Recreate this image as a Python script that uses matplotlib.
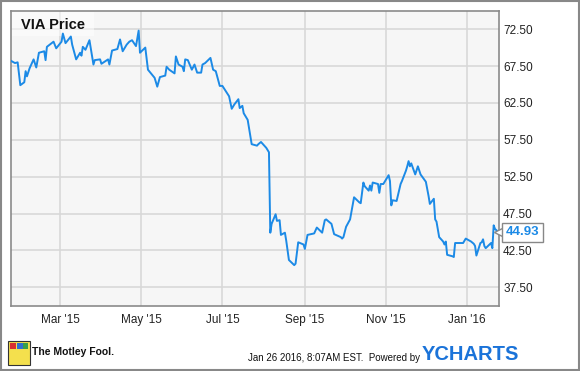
import matplotlib
matplotlib.use("Agg")
import matplotlib.pyplot as plt
import matplotlib.dates as mdates
import matplotlib.patches as mpatches
import pandas as pd

# VIA daily close
dates = [
    "2015-01-23", "2015-01-26", "2015-01-28", "2015-01-30", "2015-02-02", "2015-02-03",
    "2015-02-04", "2015-02-06", "2015-02-09", "2015-02-11", "2015-02-13", "2015-02-17",
    "2015-02-18", "2015-02-19", "2015-02-24", "2015-02-26", "2015-03-02", "2015-03-03",
    "2015-03-05", "2015-03-09", "2015-03-10", "2015-03-13", "2015-03-16", "2015-03-17",
    "2015-03-18", "2015-03-20", "2015-03-23", "2015-03-26", "2015-03-27", "2015-03-31",
    "2015-04-01", "2015-04-06", "2015-04-07", "2015-04-09", "2015-04-13", "2015-04-15",
    "2015-04-17", "2015-04-20", "2015-04-22", "2015-04-24", "2015-04-27", "2015-04-29",
    "2015-04-30", "2015-05-04", "2015-05-06", "2015-05-11", "2015-05-13", "2015-05-15",
    "2015-05-19", "2015-05-20", "2015-05-22", "2015-05-26", "2015-05-27", "2015-05-29",
    "2015-06-01", "2015-06-02", "2015-06-03", "2015-06-05", "2015-06-08", "2015-06-10",
    "2015-06-12", "2015-06-15", "2015-06-16", "2015-06-18", "2015-06-22", "2015-06-24",
    "2015-06-26", "2015-06-29", "2015-07-01", "2015-07-06", "2015-07-08", "2015-07-10",
    "2015-07-13", "2015-07-14", "2015-07-16", "2015-07-17", "2015-07-20", "2015-07-23",
    "2015-07-27", "2015-07-28", "2015-07-30", "2015-08-03", "2015-08-05", "2015-08-06",
    "2015-08-07", "2015-08-10", "2015-08-11", "2015-08-13", "2015-08-14", "2015-08-17",
    "2015-08-18", "2015-08-20", "2015-08-24", "2015-08-25", "2015-08-27", "2015-08-31",
    "2015-09-01", "2015-09-03", "2015-09-08", "2015-09-10", "2015-09-14", "2015-09-16",
    "2015-09-17", "2015-09-21", "2015-09-23", "2015-09-28", "2015-09-29", "2015-09-30",
    "2015-10-02", "2015-10-05", "2015-10-08", "2015-10-12", "2015-10-13", "2015-10-15",
    "2015-10-16", "2015-10-19", "2015-10-20", "2015-10-21", "2015-10-22", "2015-10-26",
    "2015-10-27", "2015-10-28", "2015-10-30", "2015-11-03", "2015-11-04", "2015-11-05",
    "2015-11-06", "2015-11-09", "2015-11-12", "2015-11-13", "2015-11-16", "2015-11-17",
    "2015-11-18", "2015-11-19", "2015-11-20", "2015-11-23", "2015-11-25", "2015-11-27",
    "2015-12-01", "2015-12-03", "2015-12-04", "2015-12-07", "2015-12-08", "2015-12-09",
    "2015-12-11", "2015-12-14", "2015-12-15", "2015-12-16", "2015-12-17", "2015-12-21",
    "2015-12-22", "2015-12-23", "2015-12-28", "2015-12-29", "2015-12-31", "2016-01-04",
    "2016-01-06", "2016-01-07", "2016-01-08", "2016-01-11", "2016-01-12", "2016-01-13",
    "2016-01-14", "2016-01-15", "2016-01-19", "2016-01-20", "2016-01-21", "2016-01-22",
    "2016-01-25",
]
prices = [
    68.2, 67.9, 68.0, 64.9, 65.3, 66.8,
    66.1, 67.2, 68.4, 67.3, 69.3, 69.5,
    68.3, 70.1, 70.8, 69.9, 70.8, 71.9,
    70.6, 71.5, 70.4, 68.4, 69.3, 68.9,
    70.1, 69.7, 71.0, 67.7, 68.3, 68.4,
    67.8, 68.4, 67.7, 69.6, 69.8, 71.1,
    69.5, 70.4, 70.8, 71.0, 70.2, 72.3,
    69.3, 70.0, 67.0, 65.9, 64.7, 66.0,
    66.2, 67.4, 67.0, 66.5, 68.8, 67.7,
    67.4, 66.8, 68.4, 68.3, 67.0, 67.7,
    66.6, 66.6, 67.7, 67.9, 68.6, 67.0,
    66.8, 64.8, 64.8, 63.4, 61.7, 62.3,
    63.0, 61.8, 62.1, 61.1, 60.2, 56.9,
    56.7, 56.9, 57.2, 56.4, 55.8, 44.9,
    46.1, 47.4, 46.5, 46.6, 44.6, 44.9,
    43.8, 41.2, 40.5, 40.7, 43.6, 43.3,
    42.7, 44.6, 44.8, 45.6, 44.9, 46.6,
    46.7, 46.1, 44.7, 44.3, 44.1, 44.3,
    45.7, 46.7, 49.7, 49.0, 48.9, 51.7,
    51.2, 50.6, 51.3, 50.6, 51.7, 51.5,
    50.3, 51.5, 51.5, 52.7, 51.9, 48.6,
    49.3, 49.2, 51.5, 51.9, 53.3, 53.9,
    54.6, 53.9, 54.3, 52.8, 53.9, 52.8,
    51.8, 49.9, 48.8, 49.5, 46.7, 46.4,
    44.3, 43.7, 43.3, 43.7, 41.9, 41.7,
    41.6, 43.5, 43.5, 43.5, 44.1, 43.7,
    43.4, 43.1, 41.8, 43.5, 43.6, 44.0,
    43.1, 42.8, 43.5, 42.8, 45.9, 45.4,
    44.93,
]
y_ticks = [37.5, 42.5, 47.5, 52.5, 57.5, 62.5, 67.5, 72.5]
x_ticks = ["2015-03-01", "2015-05-01", "2015-07-01", "2015-09-01", "2015-11-01", "2016-01-01"]

plt.rcParams['font.family'] = ['Liberation Sans', 'DejaVu Sans']

dt = pd.to_datetime(dates)
line_color = '#1c8ae6'
grid_color = '#d8d8d8'
edge_color = '#8a8a8a'

fig = plt.figure(figsize=(5.8, 3.71), dpi=100)
ax = fig.add_axes([11 / 580, 65.3 / 371, 488 / 580, 295 / 371])
ax.set_facecolor('#f6f6f6')

ax.plot(dt, prices, color=line_color, lw=1.4, zorder=3)

ax.set_ylim(35, 75)
ax.set_xlim(pd.Timestamp("2015-01-23"), pd.Timestamp("2016-01-25"))
ax.set_yticks(y_ticks)
ax.set_yticklabels(["%.2f" % v for v in y_ticks])
ax.set_xticks(pd.to_datetime(x_ticks))
ax.xaxis.set_major_formatter(mdates.DateFormatter("%b '%y"))
ax.yaxis.tick_right()
ax.tick_params(axis='both', length=0, labelsize=8.5, colors='#222222')
ax.tick_params(axis='y', pad=3)
ax.tick_params(axis='x', pad=6)
ax.grid(True, color=grid_color, lw=1.2, zorder=0)
for s in ax.spines.values():
    s.set_color(edge_color)
    s.set_linewidth(1.2)

# title box
ax.add_patch(mpatches.Rectangle((0, 0.915), 0.17, 0.085, transform=ax.transAxes,
                                facecolor='white', alpha=0.5, edgecolor='none', zorder=2))
ax.text(0.02, 0.952, "VIA Price", transform=ax.transAxes, fontsize=10.5,
        fontweight='bold', va='center', ha='left', color='#111111', zorder=4)

# last value tag
last_x = pd.Timestamp("2016-01-25")
ax.plot([last_x], [prices[-1]], marker='<', ms=7, mfc='white', mec='#888888',
        mew=1, clip_on=False, zorder=5)
ax.annotate("44.93", xy=(last_x, prices[-1]),
            xytext=(5, 0), textcoords='offset points', va='center', ha='left',
            fontsize=9.5, fontweight='bold', color=line_color, annotation_clip=False,
            zorder=6,
            bbox=dict(boxstyle='square,pad=0.28', facecolor='white', edgecolor='#888888', lw=1))

# footer
fig.patches.append(mpatches.Rectangle((1 / 580, 1 / 371), 578 / 580, 369 / 371,
                                      transform=fig.transFigure, fill=False,
                                      edgecolor='#888888', lw=1.5))
# little jester logo
fig.patches.append(mpatches.Rectangle((8 / 580, 6 / 371), 22 / 580, 24 / 371,
                                      transform=fig.transFigure, facecolor='#f4e04d',
                                      edgecolor='#333333', lw=0.8))
fig.patches.append(mpatches.Rectangle((10 / 580, 22 / 371), 6 / 580, 6 / 371,
                                      transform=fig.transFigure, facecolor='#d83030',
                                      edgecolor='none'))
fig.patches.append(mpatches.Rectangle((17 / 580, 22 / 371), 6 / 580, 6 / 371,
                                      transform=fig.transFigure, facecolor='#2f6fd0',
                                      edgecolor='none'))
fig.patches.append(mpatches.Rectangle((23 / 580, 22 / 371), 5 / 580, 6 / 371,
                                      transform=fig.transFigure, facecolor='#3aa048',
                                      edgecolor='none'))
fig.text(32 / 580, 1 - 352 / 371, "The Motley Fool.", fontsize=7.5, fontweight='bold',
         color='#111111', va='center', ha='left')
fig.text(420 / 580, 1 - 358 / 371, "Jan 26 2016, 8:07AM EST.  Powered by", fontsize=7,
         color='#111111', va='center', ha='right')
fig.text(422 / 580, 1 - 355 / 371, "YCHARTS", fontsize=14.5, fontweight='bold',
         color='#1a73d9', va='center', ha='left')

fig.savefig("out.png", dpi=100)
